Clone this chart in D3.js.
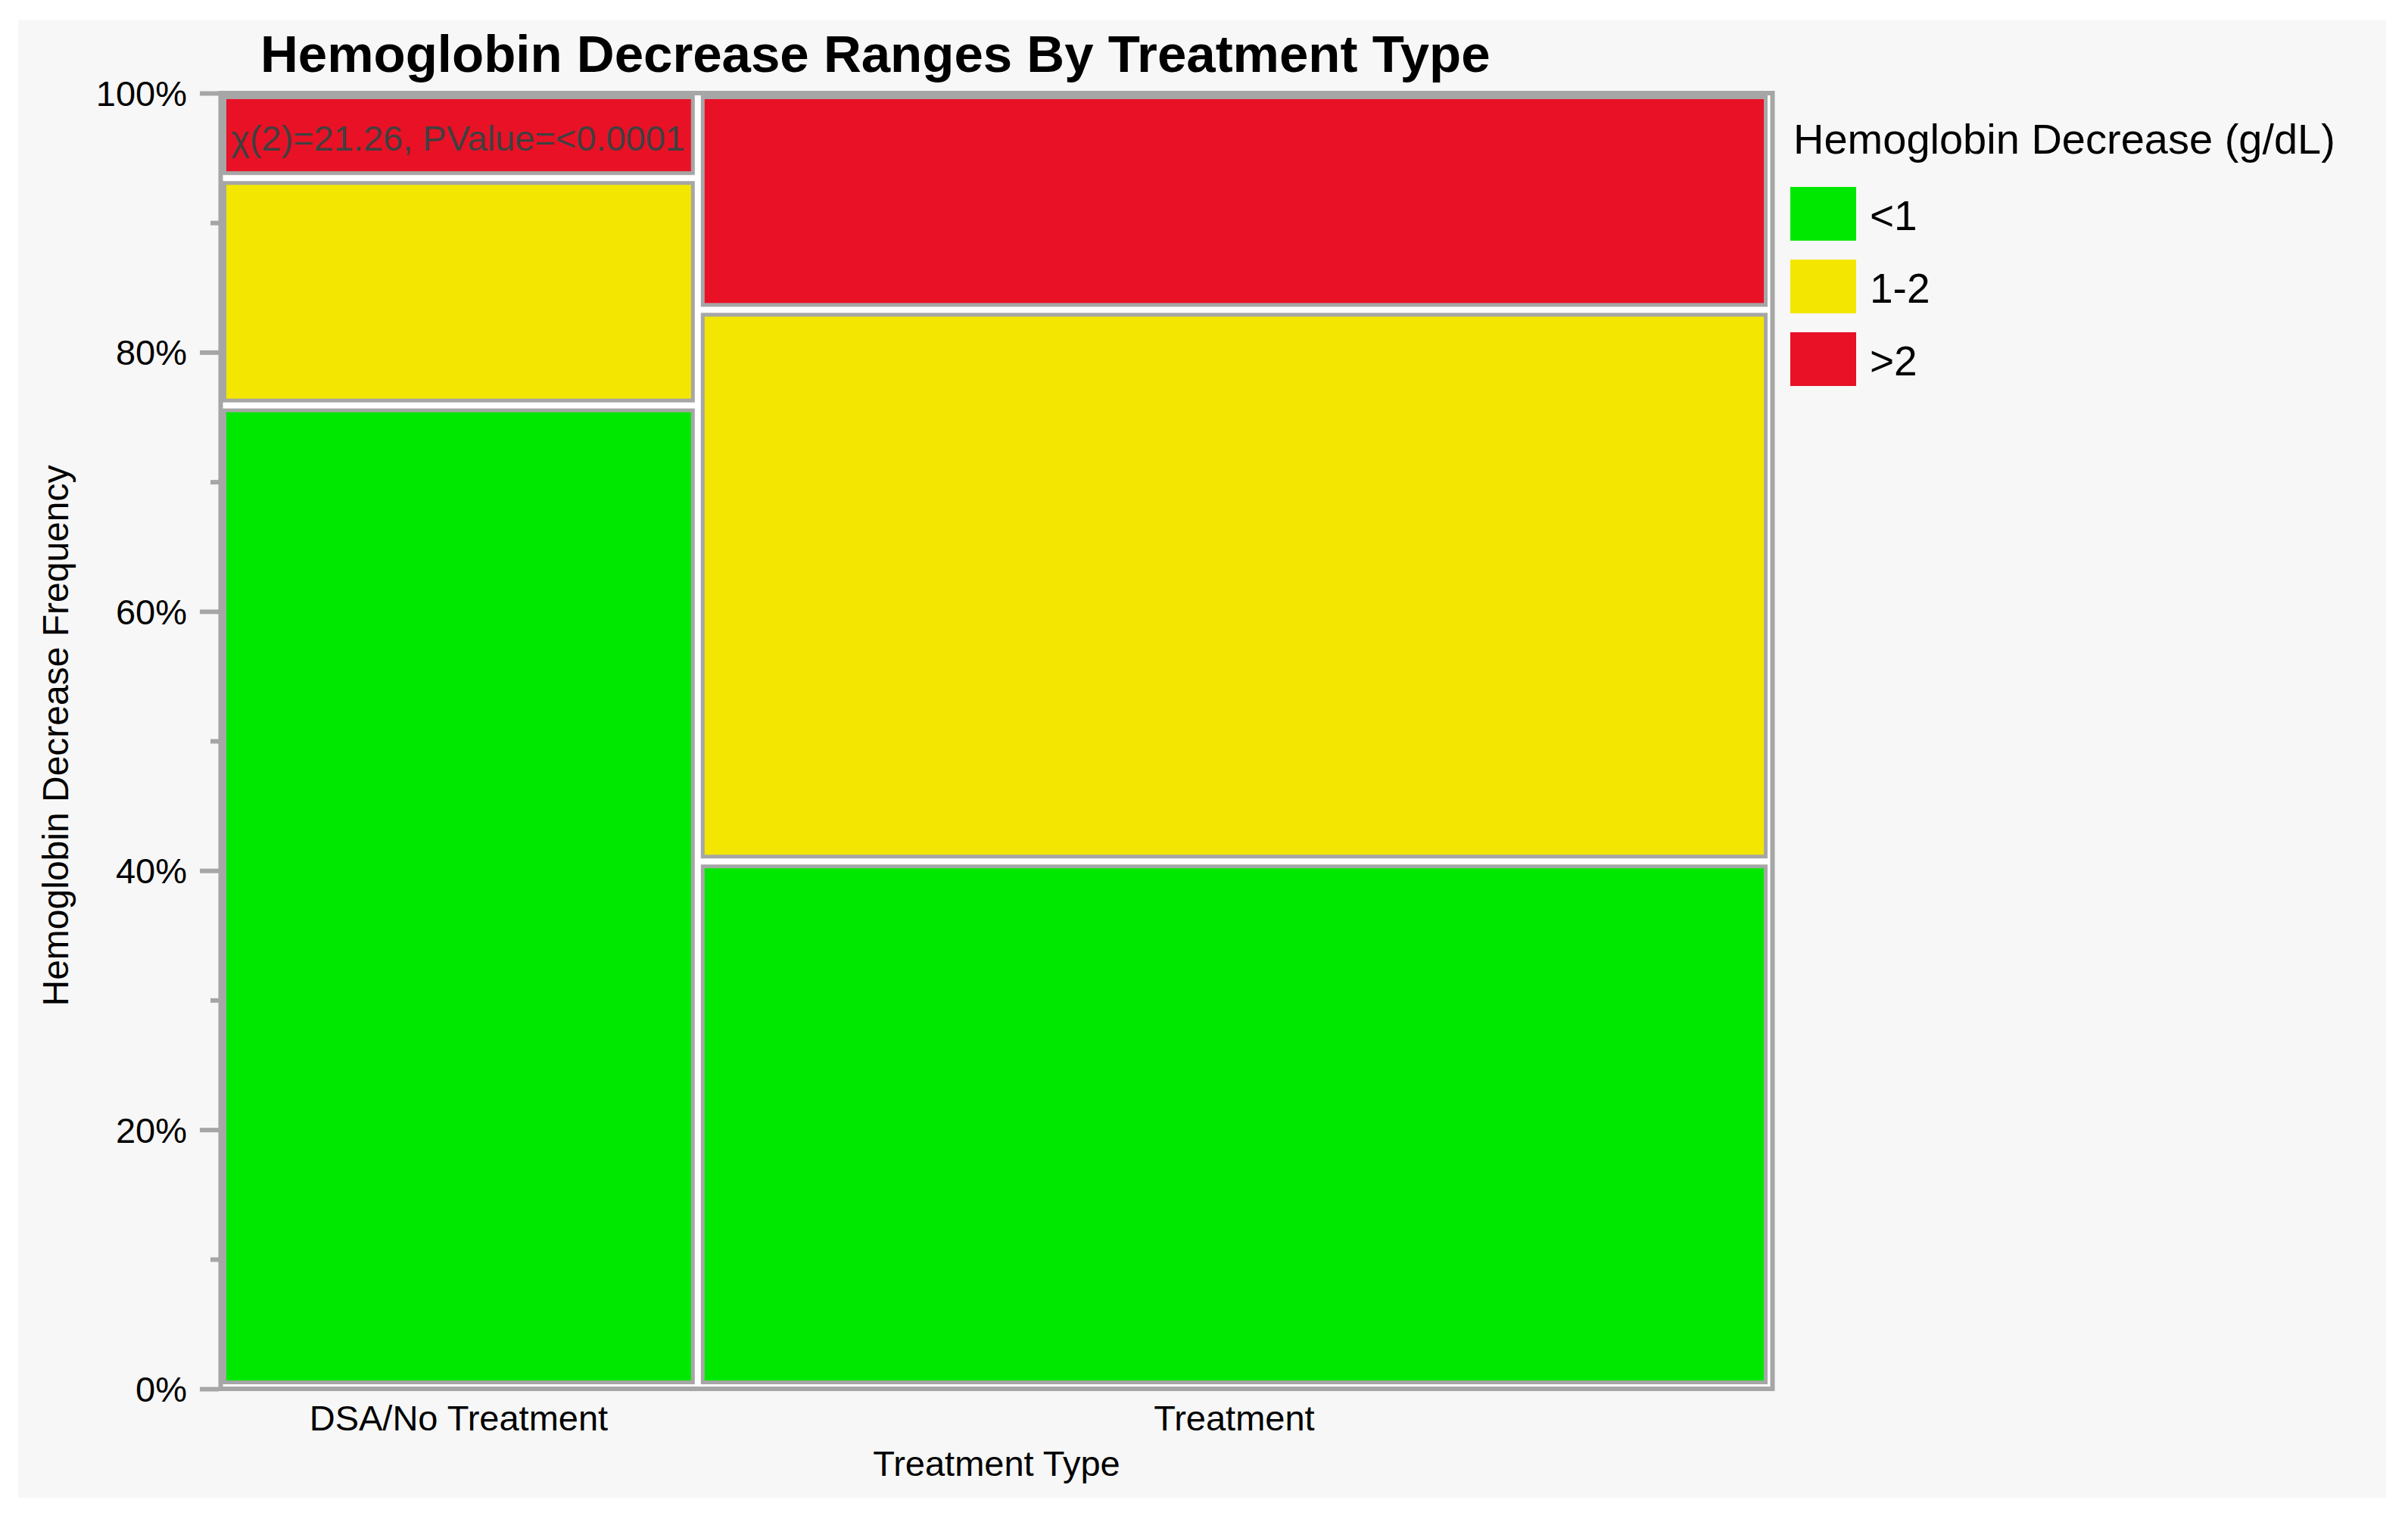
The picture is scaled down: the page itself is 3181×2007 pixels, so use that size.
<!DOCTYPE html>
<html>
<head>
<meta charset="utf-8">
<script src="https://cdn.jsdelivr.net/npm/d3@7"></script>
<style>
  html, body { margin: 0; padding: 0; background: #ffffff; }
  svg { display: block; }
  text { font-family: "Liberation Sans", Arial, Helvetica, sans-serif; }
</style>
</head>
<body>
<script>
// ---- Data ----
const categories = ["DSA/No Treatment", "Treatment"];
const columnShare = [30.7, 69.3];              // % of all patients in each treatment group
const levels = ["<1", "1-2", ">2"];            // Hemoglobin decrease (g/dL)
const pctLess1 = [76.0, 40.7];                 // % within group, <1
const pct1to2 = [17.6, 42.7];                  // % within group, 1-2
const pctMore2 = [6.4, 16.6];                  // % within group, >2
const yTickValues = [0, 0.2, 0.4, 0.6, 0.8, 1.0];
const yMinorTickValues = [0.1, 0.3, 0.5, 0.7, 0.9];
const titleText = "Hemoglobin Decrease Ranges By Treatment Type";
const statText = "\u03c7(2)=21.26, PValue=<0.0001";
const xTitle = "Treatment Type";
const yTitle = "Hemoglobin Decrease Frequency";
const legendTitle = "Hemoglobin Decrease (g/dL)";
const colors = ["#00e800", "#f3e600", "#e91126"];

// ---- Layout ----
const W = 3181, H = 2007;
const GRAY = "#a6a6a6";
const svg = d3.select("body").append("svg").attr("width", W).attr("height", H);

svg.append("rect").attr("x", 24).attr("y", 26).attr("width", 3152 - 24).attr("height", 1979 - 26)
  .attr("fill", "#f7f7f7");

// axis scale (frame) and cell scales
const yAxisScale = d3.scaleLinear().domain([0, 1]).range([1835, 123]);
const xCell = d3.scaleLinear().domain([0, 1]).range([294, 2339]);
const yCell = d3.scaleLinear().domain([0, 1]).range([1833, 126]);

// frame
svg.append("rect").attr("x", 291.5).attr("y", 123).attr("width", 2341.5 - 291.5).attr("height", 1835 - 123)
  .attr("fill", "#ffffff").attr("stroke", GRAY).attr("stroke-width", 6);

// build cells
const totalShare = d3.sum(columnShare);
const cells = [];
let cx = 0;
categories.forEach((cat, i) => {
  const w = columnShare[i] / totalShare;
  const vals = [pctLess1[i], pct1to2[i], pctMore2[i]];
  const tot = d3.sum(vals);
  let cy = 0;
  vals.forEach((v, j) => {
    const h = v / tot;
    cells.push({cat, level: levels[j], x0: cx, x1: cx + w, y0: cy, y1: cy + h, color: colors[j], col: i});
    cy += h;
  });
  cx += w;
});

const GAP = 4, SW = 5;
svg.append("g").selectAll("rect").data(cells).join("rect")
  .each(function(d) {
    const left = xCell(d.x0) + (d.x0 > 0.0001 ? GAP : 0);
    const right = xCell(d.x1) - GAP;
    const top = yCell(d.y1) + (d.y1 < 0.9999 ? GAP : 0);
    const bottom = yCell(d.y0) - GAP;
    d3.select(this)
      .attr("x", left + SW / 2).attr("y", top + SW / 2)
      .attr("width", right - left - SW).attr("height", bottom - top - SW)
      .attr("fill", d.color).attr("stroke", GRAY).attr("stroke-width", SW);
  });

// statistic annotation
svg.append("text").attr("x", 305).attr("y", 199)
  .attr("font-size", 47).attr("fill", "#404040").text(statText);

// y axis (major)
const yAxis = d3.axisLeft(yAxisScale).tickValues(yTickValues)
  .tickFormat(d3.format(".0%")).tickSize(25).tickPadding(17);
const gy = svg.append("g").attr("transform", "translate(289,0)").call(yAxis);
gy.select(".domain").remove();
gy.selectAll(".tick line").attr("stroke", GRAY).attr("stroke-width", 6);
gy.selectAll(".tick text").attr("font-size", 47).attr("fill", "#000")
  .attr("font-family", "Liberation Sans, Arial, sans-serif").attr("dy", "0.35em");

// y axis (minor)
const yMinor = d3.axisLeft(yAxisScale).tickValues(yMinorTickValues).tickFormat("").tickSize(11);
const gym = svg.append("g").attr("transform", "translate(289,0)").call(yMinor);
gym.select(".domain").remove();
gym.selectAll(".tick line").attr("stroke", GRAY).attr("stroke-width", 6);

// x category labels
const colCenters = categories.map((c, i) => {
  const cs = cells.filter(d => d.col === i)[0];
  const left = xCell(cs.x0) + (cs.x0 > 0.0001 ? GAP : 0);
  const right = xCell(cs.x1) - GAP;
  return {c, x: (left + right) / 2};
});
svg.append("g").selectAll("text").data(colCenters).join("text")
  .attr("x", d => d.x).attr("y", 1890).attr("text-anchor", "middle")
  .attr("font-size", 47).attr("fill", "#000").text(d => d.c);

// axis titles
svg.append("text").attr("x", (291.5 + 2341.5) / 2).attr("y", 1950).attr("text-anchor", "middle")
  .attr("font-size", 47).attr("fill", "#000").text(xTitle);
svg.append("text").attr("transform", "translate(90,972) rotate(-90)").attr("text-anchor", "middle")
  .attr("font-size", 48).attr("fill", "#000").text(yTitle);

// chart title
svg.append("text").attr("x", 344).attr("y", 95).attr("font-size", 69).attr("font-weight", "bold")
  .attr("fill", "#000").text(titleText);

// legend
svg.append("text").attr("x", 2369).attr("y", 203).attr("font-size", 56).attr("fill", "#000").text(legendTitle);
const lg = svg.append("g").selectAll("g").data(levels).join("g")
  .attr("transform", (d, i) => `translate(2365,${247 + i * 96})`);
lg.append("rect").attr("width", 87).attr("height", 71).attr("fill", (d, i) => colors[i]);
lg.append("text").attr("x", 105).attr("y", 57).attr("font-size", 55).attr("fill", "#000").text(d => d);
</script>
</body>
</html>
